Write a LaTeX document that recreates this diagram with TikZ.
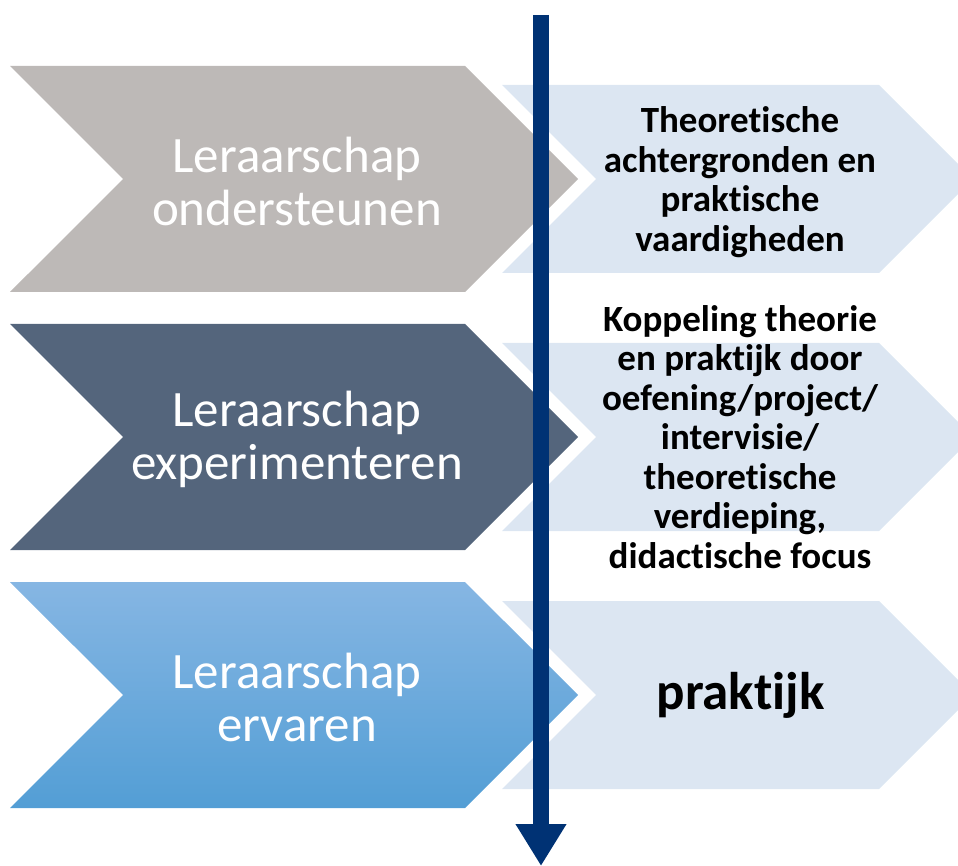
\documentclass[tikz,border=0pt]{standalone}
\usepackage{fontspec}
\setmainfont{Carlito}[Ligatures=NoCommon]
\usetikzlibrary{arrows.meta,shapes.symbols}
\definecolor{stonegray}{RGB}{189,185,183}
\definecolor{slate}{RGB}{84,101,124}
\definecolor{skytop}{RGB}{134,182,227}
\definecolor{skybot}{RGB}{83,158,213}
\definecolor{paleblue}{RGB}{220,230,242}
\definecolor{navy}{RGB}{0,50,116}

\begin{document}
\begin{tikzpicture}[x=1pt, y=-1pt,
  chev/.style={signal, signal to=east, signal from=west, signal pointer angle=90,
               draw=none, inner sep=0pt, minimum width=568pt, minimum height=226pt},
  goal/.style={signal, signal to=east, signal from=west, signal pointer angle=90,
               draw=none, fill=paleblue, inner sep=0pt, minimum width=471pt, minimum height=188pt},
  phase/.style={text=white, align=center, font=\fontsize{51}{53}\selectfont},
  aim/.style={text=black, align=center, font=\bfseries\fontsize{37}{39.5}\selectfont}]
  \useasboundingbox (0,0) rectangle (958,866);
  % linker pijlen
  \node[chev, fill=stonegray] (steun) at (294,179) {};
  \node[chev, fill=slate] (exp) at (294,437) {};
  \node[chev, top color=skytop, bottom color=skybot] (erv) at (294,695) {};
  % rechter pijlen
  \node[goal] (doel1) at (737.5,179) {};
  \node[goal] (doel2) at (737.5,437) {};
  \node[goal] (doel3) at (737.5,695) {};
  % teksten
  \node[phase, xshift=3pt, yshift=-2pt] (tsteun) at (steun) {Leraarschap\\ondersteunen};
  \node[phase, xshift=3pt, yshift=-2pt] (texp) at (exp) {Leraarschap\\experimenteren};
  \node[phase, xshift=3pt, yshift=-2pt] (terv) at (erv) {Leraarschap\\ervaren};
  \node[aim, xshift=2.5pt, yshift=-3pt] (tdoel1) at (doel1) {Theoretische\\achtergronden en\\praktische\\vaardigheden};
  \node[aim, xshift=2.5pt] (tdoel2) at (doel2) {Koppeling theorie\\en praktijk door\\oefening/project/\\intervisie/\\theoretische\\verdieping,\\didactische focus};
  \node[aim, xshift=3pt, font=\bfseries\fontsize{53}{60}\selectfont] (tdoel3) at (doel3) {praktijk};
  % tijdlijn
  \coordinate (begin) at (541,15);
  \coordinate (eind) at (541,866);
  \draw[line width=16pt, navy, -{Triangle[width=48pt,length=42pt]}] (begin) -- (eind);
\end{tikzpicture}
\end{document}
